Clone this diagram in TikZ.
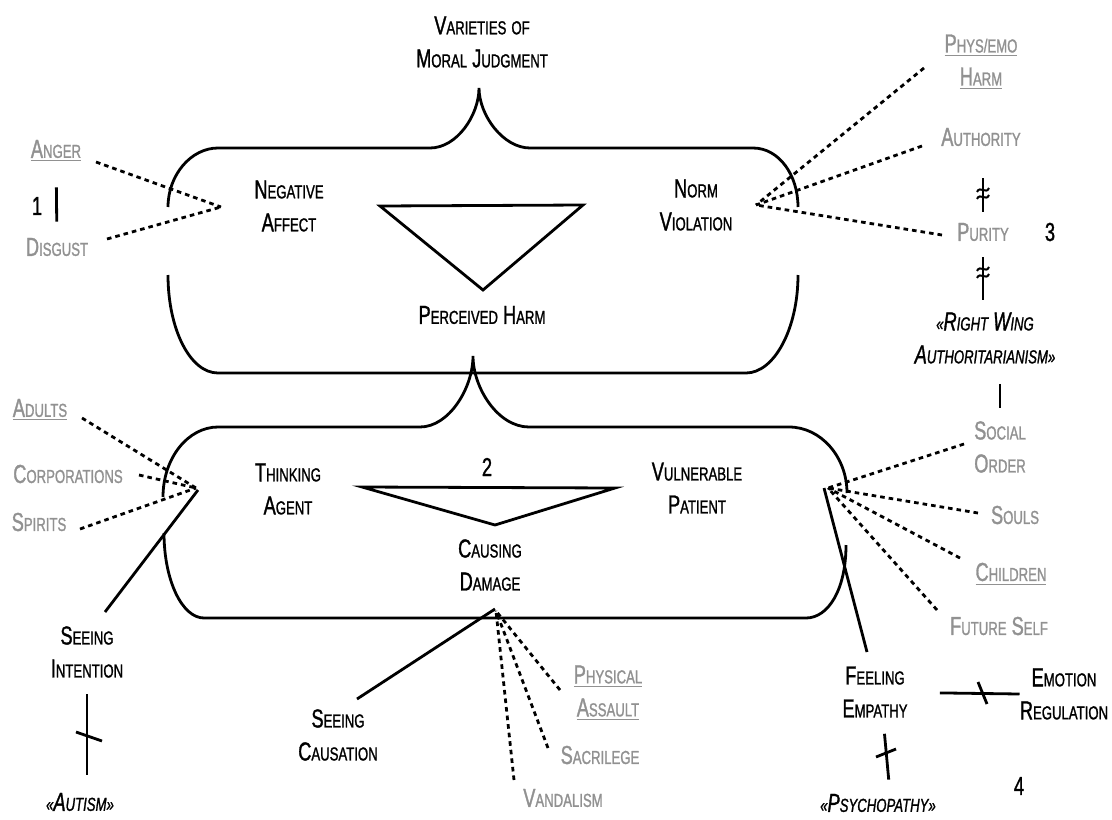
\documentclass[tikz,border=0pt]{standalone}
\usepackage{fontspec}
\setmainfont{Liberation Sans}[FakeStretch=0.7, FakeBold=1.2]
\usepackage{tikz}

\definecolor{cuegray}{RGB}{145,145,145}
\newcommand\capsz{\fontsize{13}{16.5}\selectfont}
\newcommand\lowsz{\fontsize{9.4}{16.5}\selectfont}
\newcommand\sw[2]{{\capsz #1}{\lowsz\MakeUppercase{#2}}}

\begin{document}
\begin{tikzpicture}[x=0.5pt, y=-0.5pt,
    term/.style={align=center, inner sep=0pt, font=\capsz},
    cue/.style={term, text=cuegray},
    frame/.style={line width=1.4pt},
    link/.style={line width=1.4pt},
    cueline/.style={line width=1.4pt, dash pattern=on 2.3pt off 2pt},
    bar/.style={line width=1.4pt},
    tilde/.style={line width=1pt}
  ]
  \useasboundingbox (0,0) rectangle (1112,819);

  % Title
  \node[term] (judgment) at (482,42) {\sw{V}{arieties} \sw{}{of}\\\sw{M}{oral} \sw{J}{udgment}};

  % Upper frame (brace up top)
  \draw[frame] (168,207) .. controls (168,175) and (191,148) .. (218,148) -- (430,148)
    .. controls (457,148) and (479,115) .. (479,88)
    .. controls (479,115) and (503,148) .. (530,148) -- (753,148)
    .. controls (779,148) and (798,175) .. (798,207);
  \draw[frame] (168,275) .. controls (168,329) and (190,373) .. (218,373) -- (746,373)
    .. controls (774,373) and (798,329) .. (798,275);

  % Lower frame (brace in the middle)
  \draw[frame] (163,497) .. controls (163,458) and (188,427) .. (218,427) -- (420,427)
    .. controls (449,427) and (473,388) .. (473,356)
    .. controls (473,388) and (498,427) .. (529,427) -- (789,427)
    .. controls (821,427) and (847,457) .. (847,493);
  \draw[frame] (164,533) .. controls (164,580) and (182,618) .. (204,618) -- (806,618)
    .. controls (828,618) and (846,590) .. (846,545);

  % Triangles
  \draw[frame] (380,206) -- (583,205) -- (483,290) -- cycle;
  \draw[frame] (362,487) -- (615,488) -- (495,525) -- cycle;

  % Upper frame labels
  \node[term] (affect) at (289,206) {\sw{N}{egative}\\\sw{A}{ffect}};
  \node[term] (norm) at (696,205) {\sw{N}{orm}\\\sw{V}{iolation}};
  \node[term] (harm) at (482,315) {\sw{P}{erceived} \sw{H}{arm}};
  \coordinate (affect-pt) at (221,207);
  \coordinate (norm-pt) at (756,205);

  % Left cues (1)
  \node[cue] (anger) at (56,151) {\underline{\sw{A}{nger}}};
  \node[cue] (disgust) at (57,247) {\sw{D}{isgust}};
  \node[term] (one) at (37,206) {1};
  \coordinate (anger-e) at (96,162);
  \coordinate (disgust-e) at (107,239);
  \draw[cueline] (anger-e) -- (affect-pt);
  \draw[cueline] (disgust-e) -- (affect-pt);
  \draw[bar, shorten <=12.5pt, shorten >=8pt] (anger) -- (disgust);

  % Right cues (3)
  \node[cue] (physemo) at (981,62) {\underline{\sw{P}{hys/emo}}\\\underline{\sw{H}{arm}}};
  \node[cue] (authority) at (981,137) {\sw{A}{uthority}};
  \node[cue] (purity) at (983,232) {\sw{P}{urity}};
  \node[term] (three) at (1050,232) {3};
  \node[term, font=\capsz\itshape] (rwa) at (985,338) {{\lowsz«}\sw{R}{ight} \sw{W}{ing}\\\sw{A}{uthoritarianism»}};
  \coordinate (physemo-e) at (924,68);
  \coordinate (authority-e) at (922,146);
  \coordinate (purity-e) at (942,235);
  \draw[cueline] (physemo-e) -- (norm-pt);
  \draw[cueline] (authority-e) -- (norm-pt);
  \draw[cueline] (purity-e) -- (norm-pt);
  \draw[bar] (983,178) -- (983,212);
  \draw[bar] (983,257) -- (983,300);
  \draw[tilde] (977,192) .. controls (980,185) and (986,195) .. (989,188);
  \draw[tilde] (977,199) .. controls (980,192) and (986,202) .. (989,195);
  \draw[tilde] (977,271) .. controls (980,264) and (986,274) .. (989,267);
  \draw[tilde] (977,278) .. controls (980,271) and (986,281) .. (989,274);

  % Lower frame labels
  \node[term] (agent) at (288,489) {\sw{T}{hinking}\\\sw{A}{gent}};
  \node[term] (patient) at (697,488) {\sw{V}{ulnerable}\\\sw{P}{atient}};
  \node[term] (two) at (487,467) {2};
  \node[term] (damage) at (490,565) {\sw{C}{ausing}\\\sw{D}{amage}};
  \coordinate (agent-pt) at (196,488);
  \coordinate (patient-pt) at (828,488);
  \coordinate (damage-pt) at (496,611);

  % Agent cues
  \node[cue] (adults) at (40,410) {\underline{\sw{A}{dults}}};
  \node[cue] (corps) at (68,474) {\sw{C}{orporations}};
  \node[cue] (spirits) at (39,522) {\sw{S}{pirits}};
  \coordinate (adults-e) at (82,418);
  \coordinate (corps-e) at (139,475);
  \coordinate (spirits-e) at (80,529);
  \draw[cueline] (adults-e) -- (agent-pt);
  \draw[cueline] (corps-e) -- (agent-pt);
  \draw[cueline] (spirits-e) -- (agent-pt);

  % Patient cues
  \node[cue] (social) at (1000,447) {\sw{S}{ocial}\\\sw{O}{rder}};
  \node[cue] (souls) at (1015,515) {\sw{S}{ouls}};
  \node[cue] (children) at (1011,574) {\underline{\sw{C}{hildren}}};
  \node[cue] (future) at (999,626) {\sw{F}{uture} \sw{S}{elf}};
  \coordinate (social-e) at (964,444);
  \coordinate (souls-e) at (978,513);
  \coordinate (children-e) at (960,558);
  \coordinate (future-e) at (937,610);
  \draw[cueline] (social-e) -- (patient-pt);
  \draw[cueline] (souls-e) -- (patient-pt);
  \draw[cueline] (children-e) -- (patient-pt);
  \draw[cueline] (future-e) -- (patient-pt);
  \draw[bar, shorten <=10pt, shorten >=6.5pt] (rwa.south -| social) -- (social.north);

  % Damage cues
  \node[cue] (assault) at (608,693) {\underline{\sw{P}{hysical}}\\\underline{\sw{A}{ssault}}};
  \node[cue] (sacrilege) at (600,755) {\sw{S}{acrilege}};
  \node[cue] (vandalism) at (563,798) {\sw{V}{andalism}};
  \coordinate (assault-e) at (560,690);
  \coordinate (sacrilege-e) at (548,748);
  \coordinate (vandalism-e) at (514,780);
  \draw[cueline] (assault-e) -- (damage-pt);
  \draw[cueline] (sacrilege-e) -- (damage-pt);
  \draw[cueline] (vandalism-e) -- (damage-pt);

  % Processes (4)
  \node[term] (intention) at (87,652) {\sw{S}{eeing}\\\sw{I}{ntention}};
  \node[term, font=\capsz\itshape] (autism) at (80,802) {{\lowsz«}\sw{A}{utism»}};
  \node[term] (causation) at (338,735) {\sw{S}{eeing}\\\sw{C}{ausation}};
  \node[term] (empathy) at (875,692) {\sw{F}{eeling}\\\sw{E}{mpathy}};
  \node[term] (regulation) at (1064,694) {\sw{E}{motion}\\\sw{R}{egulation}};
  \node[term, font=\capsz\itshape] (psycho) at (878,803) {{\lowsz«}\sw{P}{sychopathy»}};
  \node[term] (four) at (1019,786) {4};
  \coordinate (intention-e) at (105,612);
  \coordinate (causation-e) at (357,699);
  \coordinate (empathy-e) at (867,652);
  \draw[link] (198,490) -- (intention-e);
  \draw[link] (495,609) -- (causation-e);
  \draw[link] (824,488) -- (empathy-e);

  % Bars with ticks
  \draw[bar, shorten <=8pt, shorten >=9pt] (intention.south) -- (intention.south |- autism.north);
  \draw[bar] (76,732) -- (102,741);
  \draw[bar, shorten <=16pt] (empathy) -- (regulation.west);
  \draw[bar] (978,682) -- (987,704);
  \draw[bar, shorten <=8pt, shorten >=7pt] ([xshift=4pt]empathy.south) -- ([xshift=6pt]psycho.north);
  \draw[bar] (876,757) -- (896,749);
\end{tikzpicture}
\end{document}
